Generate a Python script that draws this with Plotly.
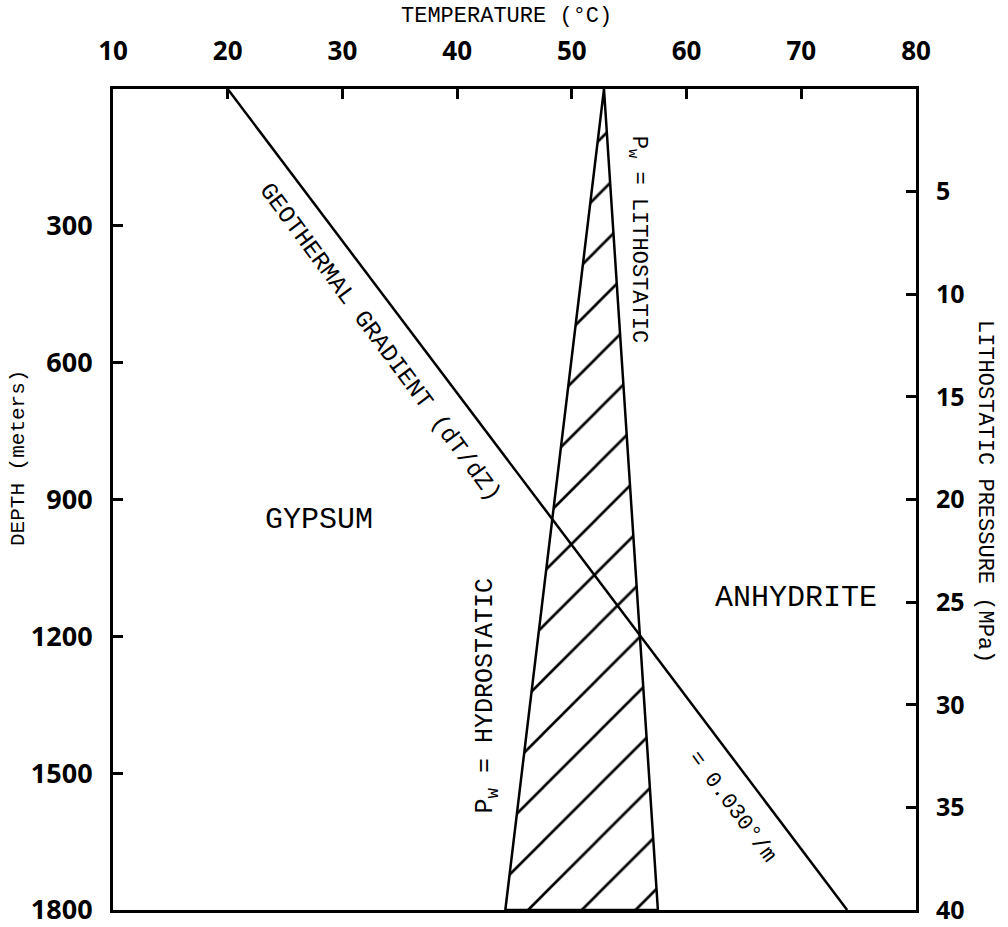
import plotly.graph_objects as go

# Data
temp_ticks = [10, 20, 30, 40, 50, 60, 70, 80]
depth_ticks = [300, 600, 900, 1200, 1500, 1800]
pressure_ticks = [5, 10, 15, 20, 25, 30, 35, 40]

geo_temp = [20, 74]          # geothermal gradient (deg C) at top / bottom
geo_depth = [0, 1800]

wedge_temp = [52.8, 44.2, 57.5, 52.8]   # apex, hydrostatic bottom, lithostatic bottom
wedge_depth = [0, 1800, 1800, 0]

MONO = "Liberation Mono, DejaVu Sans Mono, monospace"
HAND = "Open Sans, Lato, sans-serif"

L, R, T, B = 113, 92, 89, 17
PW, PH = 1008 - L - R, 927 - T - B

fig = go.Figure()

fig.add_trace(go.Scatter(
    x=wedge_temp, y=wedge_depth, mode="lines", fill="toself",
    fillcolor="white",
    fillpattern=dict(shape="/", size=38, solidity=0.07, fgcolor="black", bgcolor="white", fillmode="replace"),
    line=dict(color="black", width=2.5), showlegend=False, hoverinfo="skip"))

fig.add_trace(go.Scatter(
    x=geo_temp, y=geo_depth, mode="lines",
    line=dict(color="black", width=2.5), showlegend=False, hoverinfo="skip"))

# pressure axis companion (invisible)
fig.add_trace(go.Scatter(x=[None], y=[None], yaxis="y2", mode="lines",
                         showlegend=False, hoverinfo="skip"))

fig.update_layout(
    width=1008, height=927,
    margin=dict(l=L, r=R, t=T, b=B, autoexpand=False),
    plot_bgcolor="white", paper_bgcolor="white",
    xaxis=dict(side="top", range=[10, 80], tickvals=temp_ticks, ticktext=[str(v) for v in temp_ticks],
               ticks="inside", ticklen=10, tickwidth=2.5, tickcolor="black", automargin=False,
               showline=True, linewidth=3, linecolor="black", mirror=True,
               showgrid=False, zeroline=False, ticklabelstandoff=16, ticklabeloverflow="allow",
               tickfont=dict(family=HAND, size=26, color="black", weight="bold")),
    yaxis=dict(range=[1800, 0], tickvals=depth_ticks, ticktext=[str(v) for v in depth_ticks],
               ticks="inside", ticklen=10, tickwidth=2.5, tickcolor="black", automargin=False,
               showline=True, linewidth=3, linecolor="black",
               showgrid=False, zeroline=False, ticklabelstandoff=12, ticklabeloverflow="allow",
               tickfont=dict(family=HAND, size=27, color="black", weight="bold")),
    yaxis2=dict(range=[40, 0], overlaying="y", side="right", tickvals=pressure_ticks,
                ticktext=[str(v) for v in pressure_ticks], automargin=False,
                ticks="inside", ticklen=10, tickwidth=2.5, tickcolor="black",
                showline=True, linewidth=3, linecolor="black",
                showgrid=False, zeroline=False, ticklabelstandoff=12, ticklabeloverflow="allow",
                tickfont=dict(family=HAND, size=25, color="black", weight="bold")),
)

ann = []
def add(text, x, y, size, angle=0, xref="x", yref="y"):
    ann.append(dict(text=text, x=x, y=y, xref=xref, yref=yref, showarrow=False,
                    textangle=angle, font=dict(family=MONO, size=size, color="black"),
                    xanchor="center", yanchor="middle"))

add("TEMPERATURE (°C)", (506 - L) / PW, 1 + (T - 16) / PH, 22, xref="paper", yref="paper")
add("DEPTH (meters)", (18 - L) / PW, 1 - (458 - T) / PH, 21, angle=-90, xref="paper", yref="paper")
add("LITHOSTATIC PRESSURE (MPa)", (985 - L) / PW, 1 - (492 - T) / PH, 22, angle=90,
    xref="paper", yref="paper")

add("GYPSUM", 28.0, 945, 30)
add("ANHYDRITE", 69.5, 1115, 30)
add("GEOTHERMAL GRADIENT (dT/dZ)", 33.3, 555, 24, angle=53.5)
add("= 0.030°/m", 64.0, 1575, 22, angle=53.5)
add("P<sub>w</sub> = LITHOSTATIC", 55.7, 329, 22, angle=90)
add("P<sub>w</sub> = HYDROSTATIC", 42.6, 1330, 25, angle=-90)

fig.update_layout(annotations=ann)
fig.write_html("out.html")
